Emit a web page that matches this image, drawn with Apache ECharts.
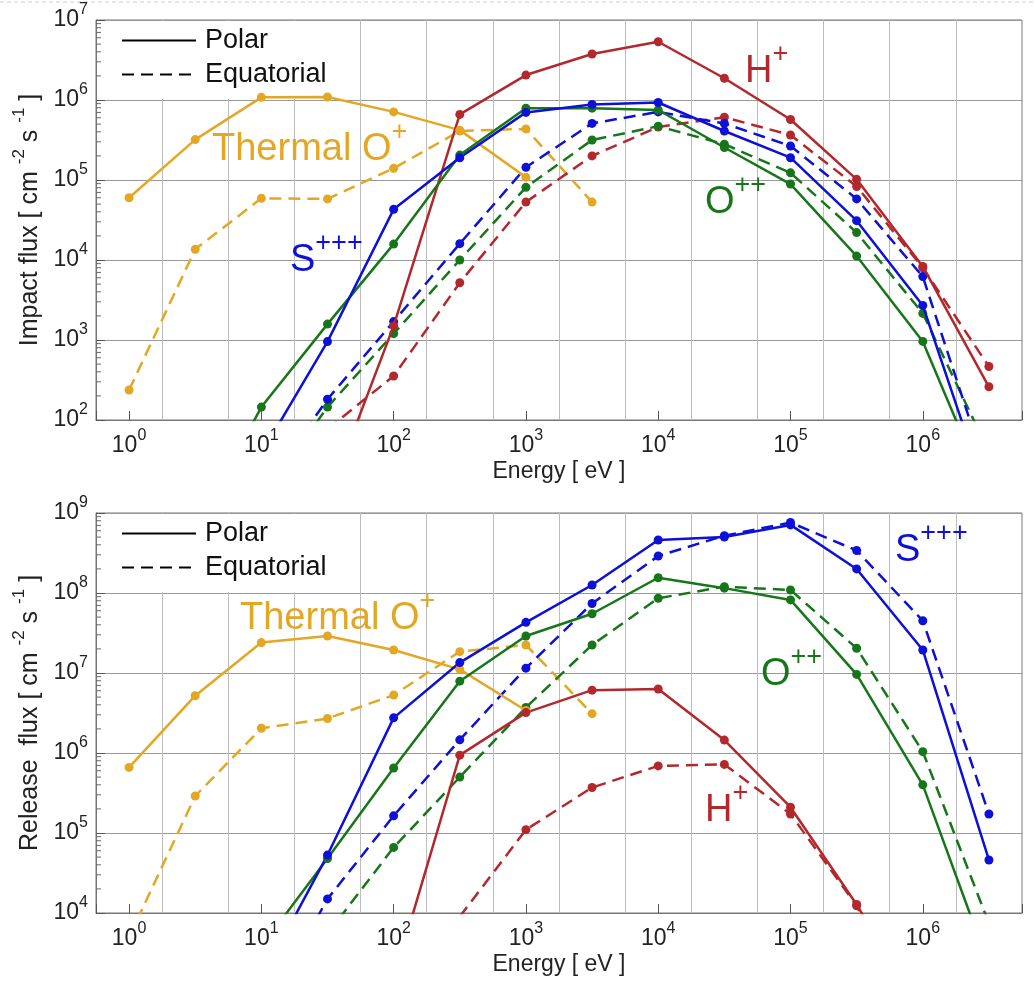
<!DOCTYPE html>
<html>
<head>
<meta charset="utf-8">
<script src="https://cdn.jsdelivr.net/npm/echarts@6/dist/echarts.min.js"></script>
<style>
  html, body { margin: 0; padding: 0; background: #fff; }
  #chart { width: 1034px; height: 994px; }
</style>
</head>
<body>
<div id="chart"></div>
<script>
// energy grid, half-decade steps (eV)
const energy = [1, 3.162, 10, 31.62, 100, 316.2, 1000, 3162, 1e4, 3.162e4, 1e5, 3.162e5, 1e6, 3.162e6];

// impact flux [cm^-2 s^-1]
const impThermalPolar = [6.0e4, 3.2e5, 1.08e6, 1.09e6, 7.1e5, 4.2e5, 1.08e5];
const impThermalEquat = [237, 1.36e4, 5.9e4, 5.8e4, 1.4e5, 4.1e5, 4.35e5, 5.3e4];
const impHPolar = [null, null, null, 10, 1.5e3, 6.6e5, 2.05e6, 3.76e6, 5.35e6, 1.87e6, 5.7e5, 1.02e5, 8.3e3, 260];
const impHEquat = [null, null, null, 77, 355, 5.2e3, 5.3e4, 2.0e5, 4.6e5, 6.1e5, 3.65e5, 8.3e4, 8.0e3, 466];
const impSPolar = [null, null, 38, 955, 4.3e4, 1.9e5, 7.0e5, 8.8e5, 9.3e5, 4.1e5, 1.9e5, 3.1e4, 2.7e3, 9.5];
const impSEquat = [null, null, 12, 182, 1.7e3, 1.6e4, 1.44e5, 5.1e5, 7.1e5, 5.1e5, 2.66e5, 5.8e4, 6.2e3, 18.6];
const impOPolar = [null, 4.2, 145, 1.58e3, 1.58e4, 2.05e5, 7.9e5, 7.9e5, 7.5e5, 2.55e5, 8.9e4, 1.12e4, 960, 10.5];
const impOEquat = [null, null, 10, 145, 1.2e3, 1.0e4, 8.1e4, 3.16e5, 4.7e5, 2.8e5, 1.23e5, 2.2e4, 2.15e3, 40];

// release flux [cm^-2 s^-1]
const relThermalPolar = [6.6e5, 5.2e6, 2.4e7, 2.9e7, 1.94e7, 1.11e7, 3.4e6];
const relThermalEquat = [5e3, 2.9e5, 2.04e6, 2.7e6, 5.3e6, 1.85e7, 2.24e7, 3.1e6];
const relHPolar = [null, null, null, null, 1.5e3, 9.4e5, 3.2e6, 6.1e6, 6.3e6, 1.45e6, 2.1e5, 1.28e4, 500];
const relHEquat = [null, null, null, null, null, 9.0e3, 1.1e5, 3.7e5, 6.9e5, 7.2e5, 1.73e5, 1.23e4, 300];
const relSPolar = [null, null, 1.5e3, 5.3e4, 2.75e6, 1.35e7, 4.3e7, 1.26e8, 4.6e8, 5.0e8, 7.1e8, 2.0e8, 1.94e7, 4.6e4];
const relSEquat = [null, null, 480, 1.5e4, 1.64e5, 1.46e6, 1.15e7, 7.4e7, 2.9e8, 5.2e8, 7.6e8, 3.4e8, 4.5e7, 1.73e5];
const relOPolar = [null, null, 3.8e3, 4.8e4, 6.5e5, 7.9e6, 2.9e7, 5.5e7, 1.55e8, 1.15e8, 8.2e7, 9.6e6, 4.0e5, 2.2e3];
const relOEquat = [null, null, null, 5.5e3, 6.6e4, 5.0e5, 3.7e6, 2.24e7, 8.6e7, 1.2e8, 1.09e8, 2.04e7, 1.04e6, 7.4e3];

const GOLD = '#E3A724';
const RED = '#B3282C';
const BLUE = '#0C10D8';
const GREEN = '#17761A';
const FONT = '"Liberation Sans", Arial, Helvetica, sans-serif';
const DASH = [12, 7];
const X_MIN = Math.pow(10, -0.25);
const X_MAX = Math.pow(10, 6.75);

const chart = echarts.init(document.getElementById('chart'));

function pairs(vals) {
  return energy.map((e, i) => [e, vals[i]]).filter(p => p[1] != null);
}

function line(vals, color, dashed, g) {
  return {
    type: 'line',
    xAxisIndex: g * 2,
    yAxisIndex: g,
    data: pairs(vals),
    symbol: 'circle',
    symbolSize: 9,
    clip: true,
    silent: true,
    itemStyle: { color: color },
    lineStyle: { color: color, width: 2.5, type: dashed ? DASH : 'solid' },
    z: dashed ? 2 : 3
  };
}

function expLabel(v) {
  const e = Math.log10(v);
  if (Math.abs(e - Math.round(e)) > 1e-6) return '';
  return '{b|10}{e|' + Math.round(e) + '}';
}

// superscripts: tall line for the base, exponent pinned to the top
const tickRich = {
  b: { fontSize: 23, fontFamily: FONT, color: '#222', lineHeight: 36, verticalAlign: 'middle' },
  e: { fontSize: 16, fontFamily: FONT, color: '#222', lineHeight: 21, verticalAlign: 'top' }
};

const nameRich = {
  n: { fontSize: 25, fontFamily: FONT, color: '#222', lineHeight: 38, verticalAlign: 'middle' },
  s: { fontSize: 17, fontFamily: FONT, color: '#222', lineHeight: 22, verticalAlign: 'top' }
};

function xAxes(g) {
  return [
    {
      type: 'log', gridIndex: g, logBase: 10, min: X_MIN, max: X_MAX,
      axisLine: { lineStyle: { color: '#777' } },
      axisTick: { inside: true, length: 9, lineStyle: { color: '#555' } },
      splitLine: { show: false },
      axisLabel: { formatter: expLabel, margin: 8, rich: tickRich },
      name: 'Energy [ eV ]', nameLocation: 'middle', nameGap: 40,
      nameTextStyle: { fontSize: 23, fontFamily: FONT, color: '#222' }
    },
    {
      // half-decade grid lines, offset by a quarter decade
      type: 'value', gridIndex: g, min: 0, max: 7, interval: 0.5, position: 'top',
      axisLine: { show: false }, axisTick: { show: false }, axisLabel: { show: false },
      splitLine: { show: true, lineStyle: { color: '#bdbdbd', width: 1 } }
    }
  ];
}

function yAxis(g, lo, hi, label) {
  return {
    type: 'log', gridIndex: g, logBase: 10, min: lo, max: hi,
    axisLine: { lineStyle: { color: '#777' } },
    axisTick: { inside: true, length: 9, lineStyle: { color: '#555' } },
    splitLine: { show: true, lineStyle: { color: '#9a9a9a', width: 1 } },
    axisLabel: { formatter: expLabel, margin: 8, rich: tickRich },
    name: label, nameLocation: 'middle', nameGap: 43,
    nameTextStyle: { rich: nameRich }
  };
}

function minorTicks(g, lo, hi) {
  const vals = [];
  for (let e = lo; e < hi; e++) {
    for (let m = 2; m <= 9; m++) vals.push([X_MIN, m * Math.pow(10, e)]);
  }
  return {
    type: 'custom', xAxisIndex: g * 2, yAxisIndex: g, silent: true, z: 4,
    data: vals,
    renderItem: function (params, api) {
      const c = api.coord([api.value(0), api.value(1)]);
      return { type: 'line', shape: { x1: c[0], y1: c[1], x2: c[0] + 5, y2: c[1] }, style: { stroke: '#666', lineWidth: 1 } };
    }
  };
}

function legend(top) {
  return {
    data: ['Polar', 'Equatorial'], orient: 'vertical', left: 97, top: top, z: 1,
    itemWidth: 74, itemHeight: 20, itemGap: 7, padding: [6, 22, 11, 24],
    backgroundColor: '#fff', selectedMode: false,
    itemStyle: { color: 'rgba(0,0,0,0)', borderWidth: 0 },
    textStyle: { fontSize: 27, fontFamily: FONT, color: '#111', padding: [0, 0, 0, 4] }
  };
}

function tag(main, sup, x, y, color) {
  return {
    type: 'text', x: x, y: y, z: 100, silent: true,
    style: {
      text: '{b|' + main + '}{s|' + sup + '}',
      rich: {
        b: { fontSize: 38, fontFamily: FONT, fill: color, lineHeight: 62, verticalAlign: 'middle' },
        s: { fontSize: 27, fontFamily: FONT, fill: color, lineHeight: 38, verticalAlign: 'top' }
      }
    }
  };
}

const option = {
  backgroundColor: '#fff',
  animation: false,
  grid: [
    { left: 96, top: 20, width: 926, height: 400, show: true, borderColor: '#777', borderWidth: 1 },
    { left: 96, top: 513, width: 926, height: 400, show: true, borderColor: '#777', borderWidth: 1 }
  ],
  legend: [legend(21), legend(514)],
  xAxis: xAxes(0).concat(xAxes(1)),
  yAxis: [
    yAxis(0, 1e2, 1e7, '{n|Impact flux [ cm }{s|-2}{n| s }{s|-1}{n| ]}'),
    yAxis(1, 1e4, 1e9, '{n|Release  flux [ cm }{s|-2}{n| s }{s|-1}{n| ]}')
  ],
  graphic: [
    { type: 'line', shape: { x1: 0, y1: 2, x2: 1034, y2: 2 }, style: { stroke: '#cfcfcf', lineWidth: 1, lineDash: [4, 3] } },
    tag('Thermal O', '+', 212, 119, GOLD),
    tag('H', '+', 745, 41, RED),
    tag('S', '+++', 290, 230, BLUE),
    tag('O', '++', 705, 172, GREEN),
    tag('Thermal O', '+', 240, 588, GOLD),
    tag('S', '+++', 895, 520, BLUE),
    tag('O', '++', 761, 644, GREEN),
    tag('H', '+', 705, 780, RED)
  ],
  series: [
    { name: 'Polar', type: 'line', xAxisIndex: 0, yAxisIndex: 0, data: [], symbol: 'none', itemStyle: { color: '#000' }, lineStyle: { color: '#000', width: 2.5 } },
    { name: 'Equatorial', type: 'line', xAxisIndex: 0, yAxisIndex: 0, data: [], symbol: 'none', itemStyle: { color: '#000' }, lineStyle: { color: '#000', width: 2.5, type: DASH } },

    line(impThermalPolar, GOLD, false, 0),
    line(impThermalEquat, GOLD, true, 0),
    line(impHPolar, RED, false, 0),
    line(impHEquat, RED, true, 0),
    line(impOPolar, GREEN, false, 0),
    line(impOEquat, GREEN, true, 0),
    line(impSPolar, BLUE, false, 0),
    line(impSEquat, BLUE, true, 0),

    line(relThermalPolar, GOLD, false, 1),
    line(relThermalEquat, GOLD, true, 1),
    line(relHPolar, RED, false, 1),
    line(relHEquat, RED, true, 1),
    line(relOPolar, GREEN, false, 1),
    line(relOEquat, GREEN, true, 1),
    line(relSPolar, BLUE, false, 1),
    line(relSEquat, BLUE, true, 1),

    minorTicks(0, 2, 7),
    minorTicks(1, 4, 9)
  ]
};

chart.setOption(option);
</script>
</body>
</html>
